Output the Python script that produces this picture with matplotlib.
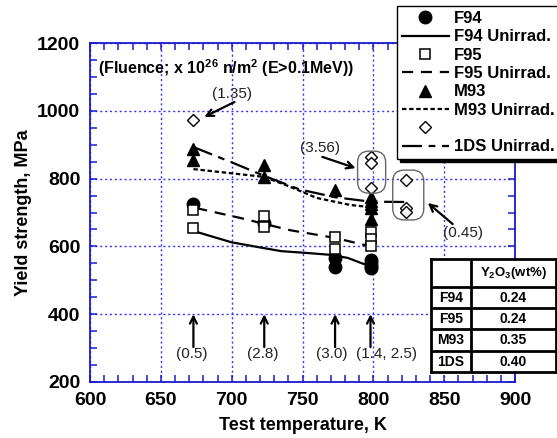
import matplotlib
matplotlib.use('Agg')
import matplotlib.pyplot as plt
from matplotlib.patches import FancyBboxPatch
from matplotlib.ticker import MultipleLocator

plt.rcParams['font.family'] = ['Liberation Sans', 'DejaVu Sans']
plt.rcParams['mathtext.fontset'] = 'custom'
plt.rcParams['mathtext.rm'] = 'Liberation Sans'
plt.rcParams['mathtext.bf'] = 'Liberation Sans:bold'
plt.rcParams['mathtext.it'] = 'Liberation Sans:italic'

# ---------------- data ----------------
f94_T = [673, 723, 773, 773, 798, 798, 798, 798]
f94_Y = [725, 668, 566, 540, 560, 550, 542, 535]
f95_T = [673, 673, 723, 723, 773, 773, 798, 798, 798]
f95_Y = [707, 655, 690, 657, 628, 592, 642, 622, 600]
m93_T = [673, 673, 723, 723, 773, 798, 798, 798, 798, 798]
m93_Y = [887, 855, 840, 805, 766, 745, 735, 725, 713, 681]
ds_T = [673, 798, 798, 798, 823, 823, 823]
ds_Y = [973, 864, 846, 772, 796, 713, 701]

f94u_T = [675, 700, 720, 735, 755, 770, 782, 792, 798]
f94u_Y = [643, 612, 597, 586, 580, 575, 566, 550, 542]
f95u_T = [675, 706, 741, 773, 798]
f95u_Y = [713, 684, 648, 625, 600]
m93u_T = [673, 723, 740, 760, 784, 798]
m93u_Y = [828, 805, 778, 743, 722, 716]
dsu_T = [673, 700, 723, 748, 773, 798, 823]
dsu_Y = [893, 848, 808, 768, 745, 732, 731]

fluence_labels = ['(0.5)', '(2.8)', '(3.0)', '(1.4, 2.5)']
fluence_arrow_T = [673, 723, 773, 798]
fluence_text_T = [672, 722, 770.5, 809.5]

table_alloys = ['F94', 'F95', 'M93', '1DS']
table_y2o3 = ['0.24', '0.24', '0.35', '0.40']

# ---------------- figure ----------------
W, H = 557, 438
fig = plt.figure(figsize=(W / 100, H / 100), dpi=100)
ax = fig.add_axes([90 / W, 1 - 382 / H, (515 - 90) / W, (382 - 43) / H])

blue = '#1a1acc'
ax.set_xlim(600, 900)
ax.set_ylim(200, 1200)
ax.xaxis.set_major_locator(MultipleLocator(50))
ax.xaxis.set_minor_locator(MultipleLocator(10))
ax.yaxis.set_major_locator(MultipleLocator(200))
ax.yaxis.set_minor_locator(MultipleLocator(50))
ax.grid(True, which='major', color='#3333ff', linestyle=(0, (1.5, 2)), linewidth=1.0)
for s in ax.spines.values():
    s.set_color(blue)
    s.set_linewidth(1.3)
ax.tick_params(which='both', direction='in', top=True, right=True, color=blue, width=1.1)
ax.tick_params(which='major', length=5, labelsize=14)
ax.tick_params(axis='x', which='major', pad=7)
ax.tick_params(axis='y', which='major', pad=7)
ax.tick_params(which='minor', length=5)
for lab in ax.get_xticklabels() + ax.get_yticklabels():
    lab.set_fontweight('bold')
ax.set_xlabel('Test temperature, K', fontsize=13, fontweight='bold', labelpad=6)
ax.set_ylabel('Yield strength, MPa', fontsize=13, fontweight='bold', labelpad=4)

lw = 1.6
l_f94u, = ax.plot(f94u_T, f94u_Y, color='black', lw=lw, ls='-')
l_f95u, = ax.plot(f95u_T, f95u_Y, color='black', lw=lw, ls=(0, (5, 3.5)))
l_m93u, = ax.plot(m93u_T, m93u_Y, color='black', lw=lw, ls=(0, (2, 1.2)))
l_dsu, = ax.plot(dsu_T, dsu_Y, color='black', lw=lw, ls=(0, (9, 3, 3, 3)))

p_f94, = ax.plot(f94_T, f94_Y, 'o', color='black', ms=9, ls='none', zorder=4)
p_m93, = ax.plot(m93_T, m93_Y, '^', color='black', ms=9, ls='none', zorder=4)
p_f95, = ax.plot(f95_T, f95_Y, 's', mfc='white', mec='black', mew=1.1, ms=7.5, ls='none', zorder=5)
p_ds, = ax.plot(ds_T, ds_Y, 'D', mfc='white', mec='black', mew=1.0, ms=6.3, ls='none', zorder=5)

# rounded boxes around diamonds
asp = (1000 / 339) / (300 / 424)
for (x0, x1, y0, y1) in [(788.9, 808.7, 757, 881), (813.7, 835.6, 678, 825)]:
    bx = FancyBboxPatch((x0, y0), x1 - x0, y1 - y0,
                        boxstyle='round,pad=0,rounding_size=8',
                        mutation_aspect=asp, fc='none', ec='#666666', lw=1.0, zorder=6)
    ax.add_patch(bx)

ax.text(606, 1126, r'(Fluence; x 10$^{\mathbf{26}}$ n/m$^{\mathbf{2}}$ (E>0.1MeV))',
        fontsize=11.5, fontweight='bold', va='center', ha='left')

arrowprops = dict(arrowstyle='->,head_length=0.5,head_width=0.25', color='black', lw=1.6,
                  shrinkA=0, shrinkB=0)
ax.text(700.5, 1049, '(1.35)', fontsize=11, ha='center', va='center', color='#222222')
ax.annotate('', xy=(680.7, 982), xytext=(702, 1026), arrowprops=arrowprops)
ax.text(762.7, 890, '(3.56)', fontsize=11, ha='center', va='center', color='#222222')
ax.annotate('', xy=(787.5, 831), xytext=(764, 864), arrowprops=arrowprops)
ax.text(863, 640, '(0.45)', fontsize=11, ha='center', va='center', color='#222222')
ax.annotate('', xy=(838.5, 728), xytext=(856, 666), arrowprops=arrowprops)

for lab, ta, tt in zip(fluence_labels, fluence_arrow_T, fluence_text_T):
    ax.annotate('', xy=(ta, 400), xytext=(ta, 303), arrowprops=arrowprops)
    ax.text(tt, 283, lab, fontsize=11, ha='center', va='center', color='#222222')

# legend
handles = [p_f94, l_f94u, p_f95, l_f95u, p_m93, l_m93u, p_ds, l_dsu]
labels = ['F94', 'F94 Unirrad.', 'F95', 'F95 Unirrad.', 'M93', 'M93 Unirrad.', '', '1DS Unirrad.']
leg = fig.legend(handles, labels, loc='upper left', bbox_to_anchor=(397 / W, 1 - 6 / H),
                 bbox_transform=fig.transFigure, prop={'weight': 'bold', 'size': 12},
                 frameon=True, fancybox=False, shadow={'color': 'black', 'alpha': 1},
                 edgecolor='black', framealpha=1, handlelength=2.8, handletextpad=0.3,
                 labelspacing=0.2, borderpad=0.3, borderaxespad=0)
leg.get_frame().set_linewidth(1.0)
leg.set_zorder(20)

# table
tx0, tx1, ty0, ty1 = 431, 556, 259, 372
tax = fig.add_axes([tx0 / W, 1 - ty1 / H, (tx1 - tx0) / W, (ty1 - ty0) / H], zorder=15)
tax.set_xlim(tx0, tx1)
tax.set_ylim(ty1, ty0)
tax.set_facecolor('white')
tax.set_xticks([])
tax.set_yticks([])
for s in tax.spines.values():
    s.set_linewidth(2)
    s.set_color('black')
col = 471
rows = [259, 287, 308, 329, 351, 372]
tax.plot([col, col], [ty0, ty1], color='black', lw=2)
for r in rows[1:-1]:
    tax.plot([tx0, tx1], [r, r], color='black', lw=2)
tax.text((col + tx1) / 2, (rows[0] + rows[1]) / 2, r'Y$_{\mathbf{2}}$O$_{\mathbf{3}}$(wt%)',
         ha='center', va='center', fontsize=9.5, fontweight='bold')
for i, (a, v) in enumerate(zip(table_alloys, table_y2o3)):
    yc = (rows[i + 1] + rows[i + 2]) / 2
    tax.text((tx0 + col) / 2, yc, a, ha='center', va='center', fontsize=10, fontweight='bold')
    tax.text((col + tx1) / 2, yc, v, ha='center', va='center', fontsize=10, fontweight='bold')

fig.savefig('out.png', dpi=100)
